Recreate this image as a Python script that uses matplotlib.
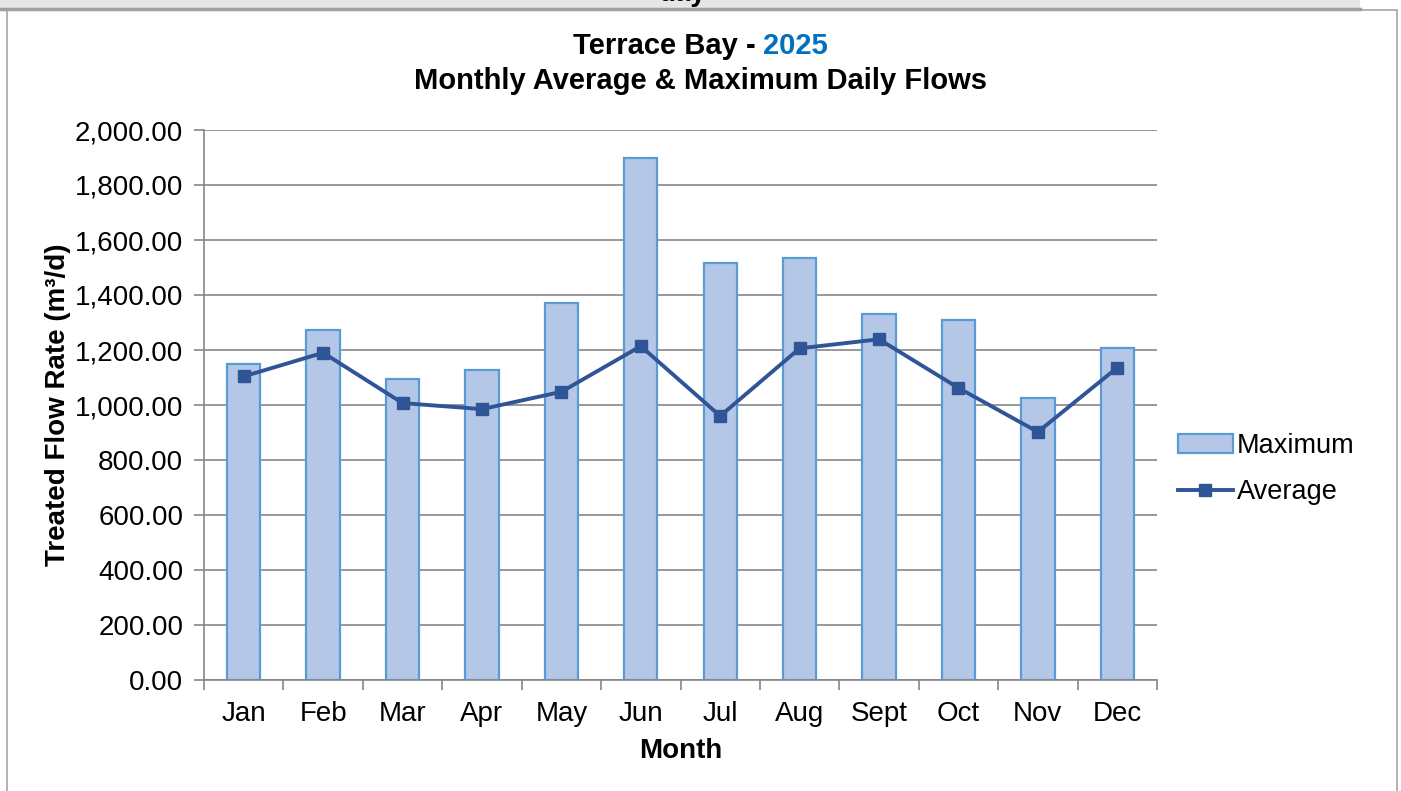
import matplotlib
matplotlib.use("Agg")
import matplotlib.pyplot as plt
from matplotlib.patches import Rectangle
from matplotlib.lines import Line2D
import numpy as np

plt.rcParams['font.family'] = ['Liberation Sans', 'DejaVu Sans']

# data
months = ["Jan", "Feb", "Mar", "Apr", "May", "Jun", "Jul", "Aug", "Sept", "Oct", "Nov", "Dec"]
maximum = [1148, 1273, 1095, 1128, 1371, 1900, 1518, 1533, 1330, 1310, 1024, 1206]
average = [1104, 1190, 1007, 985, 1048, 1214, 960, 1206, 1239, 1062, 902, 1136]
yticks = [0, 200, 400, 600, 800, 1000, 1200, 1400, 1600, 1800, 2000]

W, H = 1401, 791
fig = plt.figure(figsize=(W / 100, H / 100), dpi=100)
fig.patch.set_facecolor("white")

# page bits around the chart (gray band and frame)
fig.patches.append(Rectangle((0, 1 - 8 / H), 1360 / W, 8 / H, transform=fig.transFigure,
                             facecolor="#E6E6E6", edgecolor="none", zorder=0))
fig.add_artist(Line2D([0, 1360 / W], [1 - 8.5 / H, 1 - 8.5 / H], transform=fig.transFigure,
                      color="#A0A0A0", lw=2.5))
fig.patches.append(Rectangle((7.5 / W, -0.05), (1396.5 - 7.5) / W, 1.05 - 10 / H,
                             transform=fig.transFigure, facecolor="none",
                             edgecolor="#A6A6A6", lw=1.2, zorder=1))
fig.text(683 / W, 1 - 1 / H, "day", ha="center", va="baseline", fontsize=20, fontweight="bold")

ax = fig.add_axes([204 / W, 1 - 680 / H, (1157 - 204) / W, (680 - 130) / H])
x = np.arange(len(months))

ax.bar(x, maximum, width=0.42, color="#B4C7E7", edgecolor="#5B9BD5", linewidth=1.6,
       label="Maximum", zorder=2)
ax.plot(x, average, color="#2F5597", lw=2.8, marker="s", markersize=9,
        label="Average", zorder=3)

ax.set_xlim(-0.5, len(months) - 0.5)
ax.set_ylim(0, 2000)
ax.set_yticks(yticks)
ax.set_yticklabels(["{:,.2f}".format(v) for v in yticks], fontsize=20)
ax.set_xticks(x)
ax.set_xticklabels(months, fontsize=20)
ax.tick_params(axis="x", length=0, pad=15)
ax.set_xticks(np.arange(-0.5, len(months), 1), minor=True)
ax.tick_params(axis="x", which="minor", length=7, width=1.2, color="#868686")
ax.tick_params(axis="y", length=7, width=1.2, color="#868686", pad=8)

ax.yaxis.grid(True, color="#868686", lw=1.2, zorder=0)
ax.set_axisbelow(True)
for s in ["top", "right"]:
    ax.spines[s].set_visible(False)
for s in ["left", "bottom"]:
    ax.spines[s].set_color("#868686")
    ax.spines[s].set_linewidth(1.2)

ax.set_ylabel("Treated Flow Rate (m³/d)", fontsize=20, fontweight="bold")
ax.yaxis.set_label_coords(-0.14, 0.5)
ax.set_xlabel("Month", fontsize=20, fontweight="bold", va="top")
ax.xaxis.set_label_coords(0.5, -0.106)

# title with the year in blue
t1 = fig.text(0.5, 1 - 46 / H, "Terrace Bay - ", ha="right", va="center",
              fontsize=21, fontweight="bold")
fig.canvas.draw()
r = fig.canvas.get_renderer()
w1 = t1.get_window_extent(r).width
t2 = fig.text(0.5, 1 - 46 / H, "2025", ha="left", va="center",
              fontsize=21, fontweight="bold", color="#0070C0")
w2 = t2.get_window_extent(r).width
shift = (w1 - w2) / 2 / W
t1.set_x(0.5 + shift)
t2.set_x(0.5 + shift)
fig.text(0.5, 1 - 81 / H, "Monthly Average & Maximum Daily Flows", ha="center", va="center",
         fontsize=21, fontweight="bold")

h, l = ax.get_legend_handles_labels()
order = [l.index("Maximum"), l.index("Average")]
ax.legend([h[i] for i in order], [l[i] for i in order],
          loc="center left", bbox_to_anchor=(1154 / W, 1 - 469 / H),
          bbox_transform=fig.transFigure, frameon=False, fontsize=19.5,
          handlelength=2.0, handletextpad=0.15, labelspacing=0.75)

fig.savefig("out.png", dpi=100)
